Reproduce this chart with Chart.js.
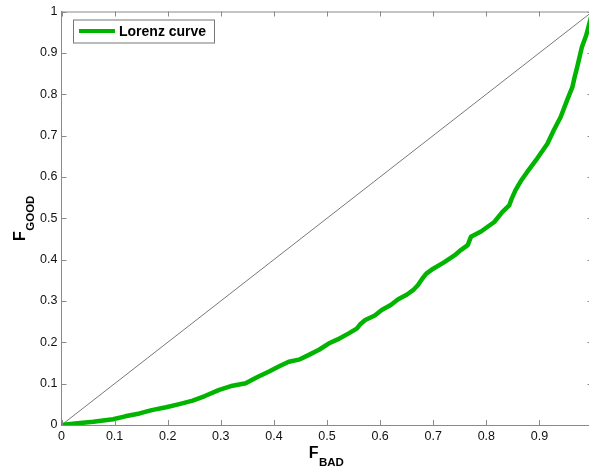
<!DOCTYPE html>
<html>
<head>
<meta charset="utf-8">
<script src="https://cdn.jsdelivr.net/npm/chart.js@4/dist/chart.umd.min.js"></script>
<style>
html,body{margin:0;padding:0;background:#fff;overflow:hidden;width:589px;height:468px;}
#wrap{position:absolute;left:0;top:0;width:600px;height:468px;}
</style>
</head>
<body>
<div id="wrap"><canvas id="c" width="600" height="468"></canvas></div>
<script>
// Lorenz curve: F_BAD (x) vs F_GOOD (y)
const fBad = [0,0.03,0.06,0.097,0.12,0.147,0.17,0.197,0.22,0.247,0.27,0.297,0.322,0.347,0.36,0.372,0.39,0.41,0.428,0.447,0.465,0.485,0.503,0.52,0.54,0.556,0.562,0.572,0.59,0.603,0.62,0.634,0.65,0.662,0.671,0.68,0.687,0.70,0.721,0.74,0.752,0.765,0.771,0.79,0.815,0.83,0.843,0.848,0.855,0.865,0.877,0.896,0.915,0.927,0.94,0.952,0.962,0.966,0.971,0.98,0.988,1.0];
const fGood = [0,0.004,0.008,0.014,0.021,0.028,0.036,0.043,0.05,0.059,0.07,0.085,0.095,0.101,0.11,0.118,0.129,0.142,0.153,0.158,0.169,0.182,0.197,0.207,0.221,0.233,0.243,0.254,0.265,0.278,0.29,0.304,0.315,0.326,0.338,0.355,0.366,0.378,0.394,0.41,0.423,0.435,0.455,0.468,0.491,0.515,0.531,0.548,0.568,0.59,0.612,0.645,0.68,0.713,0.745,0.785,0.817,0.84,0.865,0.914,0.942,1.0];
const diagX = [0,1];
const diagY = [0,1];
const tickValues = [0,0.1,0.2,0.3,0.4,0.5,0.6,0.7,0.8,0.9,1];
const legendLabel = 'Lorenz curve';
const xTitle = ['F','BAD'];
const yTitle = ['F','GOOD'];

const AX = '#8a8a8a';
const FONT = "'Liberation Sans', Arial, sans-serif";

const decor = {
  id: 'decor',
  afterDraw(chart) {
    const ctx = chart.ctx, a = chart.chartArea;
    const xs = chart.scales.x, ys = chart.scales.y;
    ctx.save();
    ctx.strokeStyle = AX; ctx.lineWidth = 1;
    ctx.beginPath(); ctx.moveTo(a.left, a.top + 0.5); ctx.lineTo(a.right, a.top + 0.5); ctx.stroke();
    ctx.beginPath(); ctx.moveTo(a.right - 0.5, a.top); ctx.lineTo(a.right - 0.5, a.bottom); ctx.stroke();
    ctx.beginPath();
    tickValues.forEach(v => {
      const px = Math.round(xs.getPixelForValue(v)) + 0.5;
      ctx.moveTo(px, a.bottom); ctx.lineTo(px, a.bottom - 5);
      ctx.moveTo(px, a.top); ctx.lineTo(px, a.top + 5);
      const py = Math.round(ys.getPixelForValue(v)) + 0.5;
      ctx.moveTo(a.left, py); ctx.lineTo(a.left + 5, py);
      ctx.moveTo(a.right, py); ctx.lineTo(a.right - 5, py);
    });
    ctx.stroke();
    // legend
    const lx = 73, ly = 19.5, lw = 141, lh = 23;
    ctx.fillStyle = '#fff';
    ctx.fillRect(lx, ly, lw, lh);
    ctx.strokeStyle = '#777'; ctx.lineWidth = 1;
    ctx.strokeRect(lx + 0.5, ly + 0.5, lw, lh);
    ctx.strokeStyle = '#00b400'; ctx.lineWidth = 4;
    ctx.beginPath(); ctx.moveTo(79, 31); ctx.lineTo(115, 31); ctx.stroke();
    ctx.fillStyle = '#000';
    ctx.font = "bold 14px " + FONT;
    ctx.textBaseline = 'alphabetic'; ctx.textAlign = 'left';
    ctx.fillText(legendLabel, 119, 36);
    // x title
    const cx = (a.left + a.right) / 2;
    ctx.font = "bold 16px " + FONT;
    const wF = ctx.measureText(xTitle[0]).width;
    ctx.font = "bold 11.5px " + FONT;
    const wB = ctx.measureText(xTitle[1]).width;
    const x0 = cx - (wF + wB) / 2 - 1;
    ctx.font = "bold 16px " + FONT;
    ctx.fillText(xTitle[0], x0, 458);
    ctx.font = "bold 11.5px " + FONT;
    ctx.fillText(xTitle[1], x0 + wF + 0.5, 466);
    // y title (rotated)
    ctx.save();
    ctx.rotate(-Math.PI / 2);
    ctx.font = "bold 16px " + FONT;
    const wF2 = ctx.measureText(yTitle[0]).width;
    ctx.fillText(yTitle[0], -241, 24.5);
    ctx.font = "bold 11.5px " + FONT;
    ctx.fillText(yTitle[1], -241 + wF2 + 0.5, 33.5);
    ctx.restore();
    ctx.restore();
  }
};

new Chart(document.getElementById('c'), {
  type: 'scatter',
  data: {
    datasets: [
      {
        label: 'diagonal',
        data: diagX.map((x, i) => ({x, y: diagY[i]})),
        showLine: true, borderColor: '#555', borderWidth: 0.8,
        pointRadius: 0, order: 2
      },
      {
        label: legendLabel,
        data: fBad.map((x, i) => ({x, y: fGood[i]})),
        showLine: true, borderColor: '#00b400', borderWidth: 4.5,
        pointRadius: 0, tension: 0, order: 1,
        borderJoinStyle: 'round', borderCapStyle: 'round'
      }
    ]
  },
  options: {
    responsive: false,
    animation: false,
    layout: { padding: { top: 11, right: 4.5, left: 0, bottom: 0 } },
    plugins: { legend: { display: false }, tooltip: { enabled: false } },
    scales: {
      x: {
        type: 'linear', min: 0, max: 1,
        afterFit: s => { s.height = 43; },
        afterBuildTicks: s => { s.ticks = tickValues.map(v => ({value: v})); },
        grid: { display: false, drawTicks: false },
        border: { display: true, color: AX, width: 1 },
        ticks: { padding: 4, color: '#111', font: { family: FONT, size: 12.5 },
          maxRotation: 0, autoSkip: false,
          callback: v => String(Math.round(v * 10) / 10) }
      },
      y: {
        type: 'linear', min: 0, max: 1,
        afterFit: s => { s.width = 61.5; },
        afterBuildTicks: s => { s.ticks = tickValues.map(v => ({value: v})); },
        grid: { display: false, drawTicks: false },
        border: { display: true, color: AX, width: 1 },
        ticks: { padding: 4, color: '#111', font: { family: FONT, size: 12.5 },
          autoSkip: false,
          callback: v => String(Math.round(v * 10) / 10) }
      }
    }
  },
  plugins: [decor]
});
</script>
</body>
</html>
